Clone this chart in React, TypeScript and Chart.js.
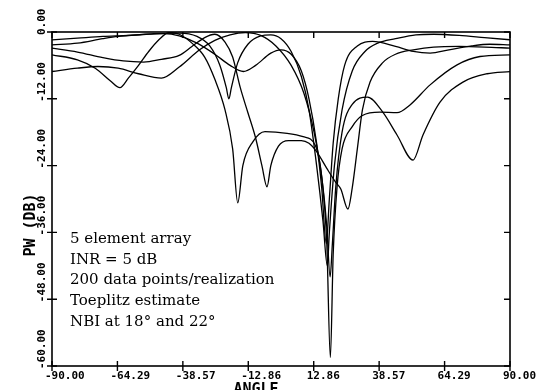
import React, { useEffect, useRef } from "react";
import { Chart, registerables } from "chart.js";

Chart.register(...registerables);

const xTicks = [-90, -64.29, -38.57, -12.86, 12.86, 38.57, 64.29, 90];
const yTicks = [0, -12, -24, -36, -48, -60];

const angA = [-90, -80, -72, -64, -56, -47, -40, -32, -26, -20, -14, -8, -2, 4, 9, 13, 16, 18, 19.3, 20.2, 21.5, 24, 28, 34, 40, 45.6, 51.9, 55.8, 62.5, 71.5, 81, 90];
const valA = [-7.1, -6.5, -6.2, -6.5, -7.5, -8.3, -6.3, -3.2, -1.5, -0.5, -0.1, -0.6, -2.5, -6, -11, -18, -26, -35, -44, -38, -28, -18, -13, -11.7, -14.4, -18.5, -23, -18.5, -12.6, -9, -7.5, -7.1];

const angB = [-90, -80, -73, -67, -63.3, -60, -56, -52, -48, -44, -40, -35, -30, -26, -22, -19, -17, -15, -11, -6.3, 2.4, 8.7, 13.4, 16, 18, 19.4, 20.5, 22, 24, 28, 32, 38.9, 45.6, 50.7, 58.6, 69.2, 78.2, 90];
const valB = [-4.1, -5, -6.5, -8.8, -10, -8.3, -6, -3.5, -1.4, -0.1, -0.4, -2, -4.5, -8.5, -14, -21, -30.7, -24, -19.7, -17.9, -18.2, -18.8, -20.3, -26, -38, -58.5, -40, -28, -21, -17, -15, -14.4, -14.5, -13.1, -9.5, -5.9, -4.4, -4.1];

const angC = [-90, -80, -70, -62, -54, -47, -40, -35, -30, -26, -22, -19, -16, -13, -10, -7.5, -5.5, -4, -1, 3, 8, 11, 14, 18, 21.5, 23.5, 26.3, 28, 30, 32, 35, 40, 45, 52, 60, 70, 80, 90];
const valC = [-2.9, -3.6, -4.6, -5.2, -5.4, -4.9, -4.2, -2.6, -1, -0.4, -1.8, -4.5, -10, -14.5, -19, -24, -27.8, -24, -20.5, -19.5, -19.5, -20, -21.5, -24.5, -27, -28.2, -31.8, -28, -21, -14, -9, -5.5, -4, -3.2, -2.7, -2.6, -2.7, -2.9];

const angD = [-90, -80, -70, -60, -50, -40, -33, -28, -24, -21.5, -20.5, -19.5, -17, -13, -8, -4, 0, 4, 8, 11, 14, 16.5, 18.2, 19, 21, 24, 28, 33, 38, 45, 53, 60, 70, 80, 90];
const valD = [-1.4, -1.1, -0.8, -0.6, -0.3, -0.2, -0.8, -2.5, -6, -10, -12, -10, -5.5, -2.2, -0.7, -0.5, -1.2, -3.5, -8, -14, -24, -34, -42, -36, -24, -14, -7, -3.5, -2, -1.2, -0.5, -0.4, -0.6, -1, -1.4];

const angE = [-90, -80, -70, -64, -55, -46, -40, -33, -26, -20, -14.8, -10, -4, 0, 4, 8, 11, 14, 16, 17.8, 19, 20.5, 22.5, 25, 30, 36, 45, 52, 58.6, 66, 75, 82, 90];
const valE = [-2.3, -2, -1.2, -0.8, -0.5, -0.3, -0.7, -2, -4, -6, -7.1, -6, -3.8, -3.2, -4, -7, -12, -20, -28, -38, -30, -20, -12, -6, -2.5, -1.7, -2.6, -3.5, -3.8, -3.2, -2.5, -2.2, -2.3];

const series = [
  { a: angA, v: valA },
  { a: angB, v: valB },
  { a: angC, v: valC },
  { a: angD, v: valD },
  { a: angE, v: valE },
];

const plotText = [
  "5 element array",
  "INR = 5 dB",
  "200 data points/realization",
  "Toeplitz estimate",
  "NBI at 18\u00b0 and 22\u00b0",
];

const MONO = "'DejaVu Sans Mono', monospace";

export default function App() {
  const ref = useRef<HTMLCanvasElement | null>(null);
  useEffect(() => {
    if (!ref.current) return;
    const decor = {
      id: "decor",
      afterDraw(chart: any) {
        const { ctx, chartArea: ca, scales } = chart;
        const xs = scales.x;
        const ys = scales.y;
        ctx.save();
        ctx.strokeStyle = "#000";
        ctx.lineWidth = 1.6;
        ctx.strokeRect(ca.left, ca.top, ca.right - ca.left, ca.bottom - ca.top);
        ctx.lineWidth = 1.4;
        ctx.beginPath();
        for (const t of xTicks) {
          const px = xs.getPixelForValue(t);
          ctx.moveTo(px, ca.bottom - 5);
          ctx.lineTo(px, ca.bottom + 5);
          ctx.moveTo(px, ca.top);
          ctx.lineTo(px, ca.top + 6);
        }
        for (const t of yTicks) {
          const py = ys.getPixelForValue(t);
          ctx.moveTo(ca.left - 5, py);
          ctx.lineTo(ca.left + 5, py);
          ctx.moveTo(ca.right, py);
          ctx.lineTo(ca.right - 6, py);
        }
        ctx.stroke();
        ctx.fillStyle = "#000";
        ctx.font = "bold 11px " + MONO;
        ctx.textBaseline = "middle";
        ctx.textAlign = "left";
        for (const t of xTicks) {
          const px = xs.getPixelForValue(t);
          ctx.fillText(t.toFixed(2), px - 7, ca.bottom + 10);
        }
        for (const t of yTicks) {
          const py = ys.getPixelForValue(t);
          ctx.save();
          ctx.translate(ca.left - 10, py + 3);
          ctx.rotate(-Math.PI / 2);
          ctx.fillText(t.toFixed(2), 0, 0);
          ctx.restore();
        }
        ctx.font = "bold 15px " + MONO;
        ctx.textAlign = "center";
        ctx.textBaseline = "alphabetic";
        ctx.fillText("ANGLE", 256, ca.bottom + 28);
        ctx.textBaseline = "middle";
        ctx.save();
        ctx.translate(ca.left - 21, 225);
        ctx.rotate(-Math.PI / 2);
        ctx.fillText("PW (DB)", 0, 0);
        ctx.restore();
        ctx.font = "15px 'DejaVu Serif', serif";
        ctx.textAlign = "left";
        plotText.forEach((s, i) => {
          ctx.fillText(s, ca.left + 18, 239 + i * 20.7);
        });
        ctx.restore();
      },
    };
    const chart = new Chart(ref.current, {
      type: "line",
      data: {
        datasets: series.map((s) => ({
          data: s.a.map((a, i) => ({ x: a, y: s.v[i] })),
          borderColor: "#000",
          borderWidth: 1.3,
          pointRadius: 0,
          cubicInterpolationMode: "monotone" as const,
          fill: false,
        })),
      },
      options: {
        animation: false,
        responsive: false,
        layout: { padding: { left: 52, top: 32, right: 31, bottom: 24 } },
        plugins: { legend: { display: false }, tooltip: { enabled: false } },
        scales: {
          x: { type: "linear", min: -90, max: 90, display: false },
          y: { type: "linear", min: -60, max: 0, display: false },
        },
      },
      plugins: [decor],
    });
    return () => chart.destroy();
  }, []);
  return (
    <div style={{ position: "fixed", left: 0, top: 0, width: 541, height: 390, background: "#fff" }}>
      <canvas ref={ref} width={541} height={390} style={{ display: "block" }} />
    </div>
  );
}
